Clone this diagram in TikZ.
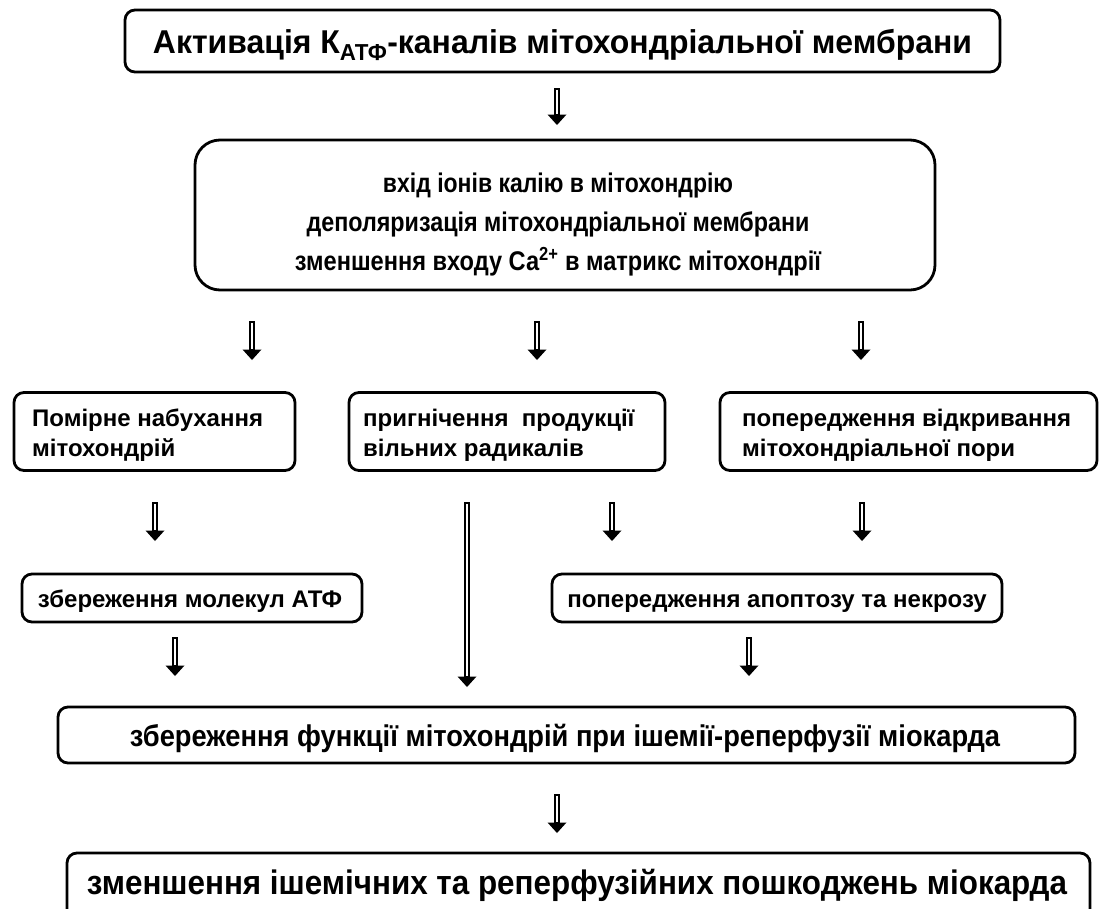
\documentclass[tikz,border=0pt]{standalone}
\usepackage{fontspec}
\setmainfont{Liberation Sans}
\usetikzlibrary{calc}
\newcommand{\fw}[2]{\resizebox{#1}{\height}{#2}}
\newcommand{\harr}[2]{%
  \draw[line width=1.6pt, fill=white] ($(#1)+(-2.2,0)$) rectangle ($(#2)+(2.2,-10)$);
  \fill ($(#2)+(-9.5,-10.5)$) -- ($(#2)+(9.5,-10.5)$) -- (#2) -- cycle;
}
\tikzset{
  box/.style={draw, line width=2.8pt, rounded corners=10pt, inner sep=0pt},
  txt/.style={anchor=base, inner sep=0pt, font=\bfseries},
  small/.style={font=\bfseries\fontsize{24}{30}\selectfont},
}
\begin{document}
\begin{tikzpicture}[x=1pt,y=-1pt]
\path[use as bounding box] (0,0) rectangle (1099,908);
\clip (0,0) rectangle (1099,908);

% boxes
\node[box, minimum width=875pt, minimum height=62pt] (top) at (562.5,41) {};
\node[box, rounded corners=25pt, minimum width=740pt, minimum height=150pt] (mid) at (565,215) {};
\node[box, minimum width=281pt, minimum height=78pt] (ba) at (154.5,431.5) {};
\node[box, minimum width=316pt, minimum height=78pt] (bb) at (507,431.5) {};
\node[box, minimum width=377pt, minimum height=78pt] (bc) at (908.5,431.5) {};
\node[box, minimum width=340pt, minimum height=48pt] (bd) at (192,598) {};
\node[box, minimum width=450pt, minimum height=48pt] (be) at (777,598) {};
\node[box, minimum width=1017pt, minimum height=56pt] (bf) at (566.5,735) {};
\node[box, minimum width=1023pt, minimum height=80pt] (bg) at (578.5,893) {};

% texts
\node[txt] (ttop) at (562.5,53) {\fontsize{33}{38}\selectfont\fw{819pt}{Активація К\textsubscript{АТФ}-каналів мітохондріальної мембрани}};
\node[txt] (tm1) at (558,192) {\fontsize{27}{30}\selectfont\fw{350pt}{вхід іонів калію в мітохондрію}};
\node[txt] (tm2) at (558,231) {\fontsize{27}{30}\selectfont\fw{503pt}{деполяризація мітохондріальної мембрани}};
\node[txt] (tm3) at (558,270) {\fontsize{27}{30}\selectfont\fw{526pt}{зменшення входу Са\textsuperscript{2+} в матрикс мітохондрії}};
\node[txt, small, anchor=base west, align=left] (ta) at (32,456) {Помірне набухання\\мітохондрій};
\node[txt, small, anchor=base west, align=left] (tb) at (363,456) {пригнічення\ \ продукції\\вільних радикалів};
\node[txt, small, anchor=base west, align=left] (tc) at (742,456) {попередження відкривання\\мітохондріальної пори};
\node[txt] (td) at (190,607) {\fontsize{24}{28}\selectfont збереження молекул АТФ};
\node[txt] (te) at (777,607) {\fontsize{24}{28}\selectfont попередження апоптозу та некрозу};
\node[txt] (tf) at (565,746) {\fontsize{30}{34}\selectfont\fw{870pt}{збереження функції мітохондрій при ішемії-реперфузії міокарда}};
\node[txt] (tg) at (577,894) {\fontsize{34}{38}\selectfont\fw{980pt}{зменшення ішемічних та реперфузійних пошкоджень міокарда}};

% arrow end points
\coordinate (a1s) at (557,89);  \coordinate (a1e) at (557,125);
\coordinate (a2s) at (252,322); \coordinate (a2e) at (252,360);
\coordinate (a3s) at (537,322); \coordinate (a3e) at (537,360);
\coordinate (a4s) at (861,322); \coordinate (a4e) at (861,360);
\coordinate (a5s) at (155,503); \coordinate (a5e) at (155,541);
\coordinate (a6s) at (467,503); \coordinate (a6e) at (467,687);
\coordinate (a7s) at (612,503); \coordinate (a7e) at (612,541);
\coordinate (a8s) at (862,503); \coordinate (a8e) at (862,541);
\coordinate (a9s) at (175,638); \coordinate (a9e) at (175,676);
\coordinate (a10s) at (749,638); \coordinate (a10e) at (749,676);
\coordinate (a11s) at (557,795); \coordinate (a11e) at (557,833);

\harr{a1s}{a1e}
\harr{a2s}{a2e}
\harr{a3s}{a3e}
\harr{a4s}{a4e}
\harr{a5s}{a5e}
\harr{a6s}{a6e}
\harr{a7s}{a7e}
\harr{a8s}{a8e}
\harr{a9s}{a9e}
\harr{a10s}{a10e}
\harr{a11s}{a11e}
\end{tikzpicture}
\end{document}
